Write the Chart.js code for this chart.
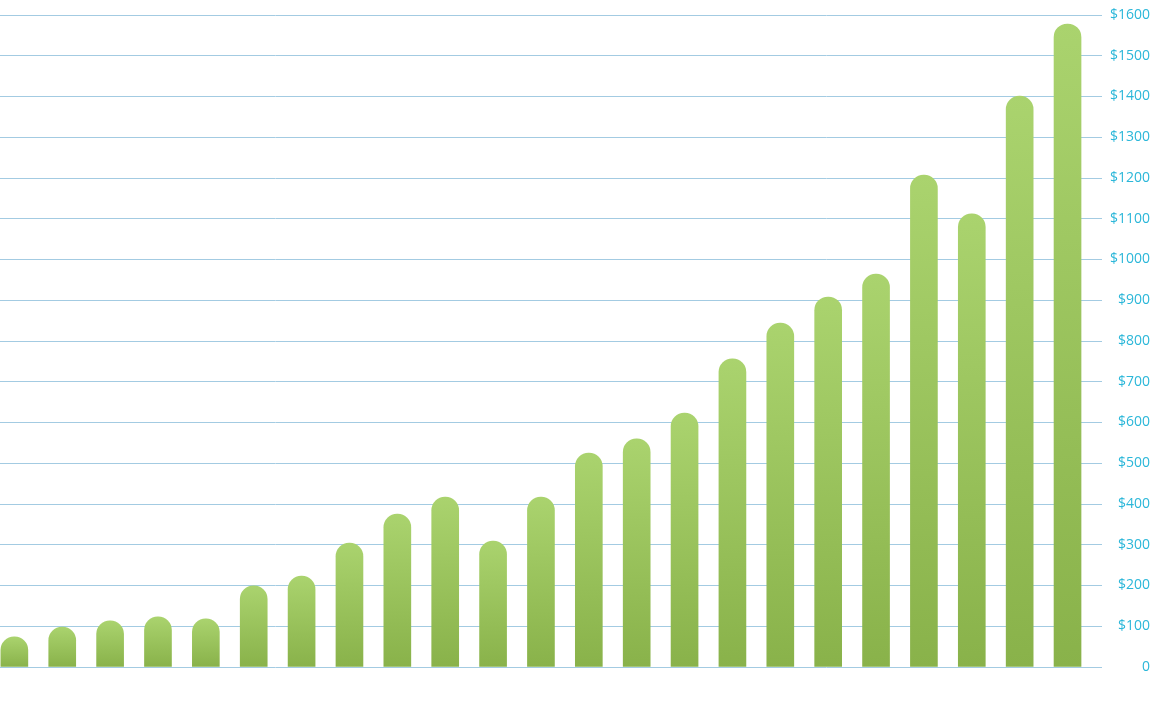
<!DOCTYPE html>
<html>
<head>
<meta charset="utf-8">
<script src="https://cdn.jsdelivr.net/npm/chart.js@4"></script>
<style>
  html, body { margin: 0; padding: 0; background: #fff; }
  #wrap { width: 1150px; height: 709px; }
</style>
</head>
<body>
<div id="wrap"><canvas id="chart"></canvas></div>
<script>
// values, left to right
const periods = ['1', '2', '3', '4', '5', '6', '7', '8', '9', '10', '11', '12',
  '13', '14', '15', '16', '17', '18', '19', '20', '21', '22', '23'];
const amounts = [74, 98, 113, 123, 118, 199, 223, 304, 375, 417, 309, 417,
  525, 560, 623, 756, 844, 908, 964, 1207, 1112, 1401, 1578];
const yTicks = [0, 100, 200, 300, 400, 500, 600, 700, 800, 900, 1000, 1100,
  1200, 1300, 1400, 1500, 1600];

const topGreen = '#aad36e';
const bottomGreen = '#89b24a';

// each bar gets its own light-to-dark fade
const barFill = (ctx) => {
  const chart = ctx.chart;
  const y = chart.scales.y;
  if (!y || !chart.chartArea || ctx.parsed == null) return bottomGreen;
  const top = y.getPixelForValue(ctx.parsed.y);
  const base = y.getPixelForValue(0);
  if (!isFinite(top) || !isFinite(base) || top === base) return bottomGreen;
  const g = chart.ctx.createLinearGradient(0, top, 0, base);
  g.addColorStop(0, topGreen);
  g.addColorStop(1, bottomGreen);
  return g;
};

new Chart(document.getElementById('chart').getContext('2d'), {
  type: 'bar',
  data: {
    datasets: [{
      data: amounts.map((v, i) => ({ x: i, y: v, label: periods[i] })),
      backgroundColor: barFill,
      borderWidth: 0,
      borderSkipped: 'bottom',
      borderRadius: { topLeft: 14, topRight: 14, bottomLeft: 0, bottomRight: 0 },
      barThickness: 27,
    }],
  },
  options: {
    responsive: true,
    maintainAspectRatio: false,
    animation: false,
    layout: { padding: { top: 15, bottom: 42, left: 0, right: 0 } },
    scales: {
      x: {
        type: 'linear',
        display: false,
        offset: false,
        grid: { offset: false },
        min: -0.3,
        max: 22.72,
      },
      y: {
        position: 'right',
        min: 0,
        max: 1600,
        afterBuildTicks: (scale) => { scale.ticks = yTicks.map(v => ({ value: v })); },
        afterFit: (scale) => { scale.width = 48; },
        border: { display: false },
        grid: { color: '#a3cbe2', lineWidth: 1, drawTicks: false },
        ticks: {
          color: '#2bb7d9',
          padding: 0,
          crossAlign: 'far',
          font: { family: 'Open Sans', size: 14 },
          callback: (v) => v === 0 ? '0' : '$' + v,
        },
      },
    },
    plugins: {
      legend: { display: false },
      tooltip: { enabled: false },
    },
  },
});
</script>
</body>
</html>
